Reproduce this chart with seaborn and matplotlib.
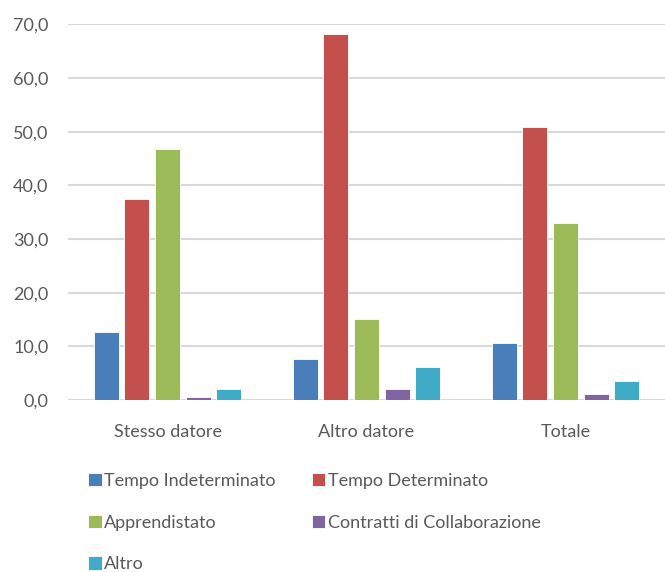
import matplotlib
matplotlib.use("Agg")
import matplotlib.pyplot as plt
import seaborn as sns
import pandas as pd
from matplotlib.ticker import FuncFormatter, MultipleLocator

categories = ["Stesso datore", "Altro datore", "Totale"]
series = ["Tempo Indeterminato", "Tempo Determinato", "Apprendistato",
          "Contratti di Collaborazione", "Altro"]
tempo_indeterminato = [12.6, 7.6, 10.6]
tempo_determinato = [37.4, 68.2, 50.8]
apprendistato = [46.8, 15.1, 32.9]
collaborazione = [0.6, 2.1, 1.1]
altro = [2.1, 6.1, 3.6]
colors = ["#4A7EBB", "#C4504D", "#9BBB59", "#8064A2", "#40ABC6"]

values = [tempo_indeterminato, tempo_determinato, apprendistato, collaborazione, altro]
rows = []
for s, vals in zip(series, values):
    for c, v in zip(categories, vals):
        rows.append({"cat": c, "serie": s, "val": v})
df = pd.DataFrame(rows)

sns.set_theme(style="white")
plt.rcParams['font.family'] = ['Lato', 'DejaVu Sans']

fig = plt.figure(figsize=(6.65, 5.72), dpi=100)
ax = fig.add_axes([68/665, 1 - 400/572, 1 - 68/665, (400 - 24.3)/572])

sns.barplot(data=df, x="cat", y="val", hue="serie", order=categories,
            hue_order=series, palette=colors, saturation=1, width=0.77, gap=0.18,
            edgecolor="white", linewidth=0.6, ax=ax, legend=True, errorbar=None)

ax.set_ylim(0, 70)
ax.set_xlim(-0.5, 2.5)
ax.yaxis.set_major_locator(MultipleLocator(10))
ax.yaxis.set_major_formatter(FuncFormatter(lambda v, p: f"{v:.1f}".replace(".", ",")))
ax.grid(axis="y", color="#d9d9d9", linewidth=1.5)
ax.set_axisbelow(True)
for sp in ax.spines.values():
    sp.set_visible(False)
ax.set_xlabel("")
ax.set_ylabel("")
ax.tick_params(axis="both", length=0, labelsize=13, colors="#595959")
ax.tick_params(axis="y", pad=14)
ax.tick_params(axis="x", pad=17)

handles, labels = ax.get_legend_handles_labels()
ax.get_legend().remove()
order = [0, 2, 4, 1, 3]
fig.legend([handles[i] for i in order], [labels[i] for i in order], ncol=2,
           loc="upper left", bbox_to_anchor=(88/665, 1 - 473/572), frameon=False,
           fontsize=13, labelcolor="#595959", handlelength=0.75,
           handleheight=0.75, handletextpad=0.15, columnspacing=2.0,
           labelspacing=1.42, borderaxespad=0, borderpad=0)

fig.savefig("out.png", dpi=100)
